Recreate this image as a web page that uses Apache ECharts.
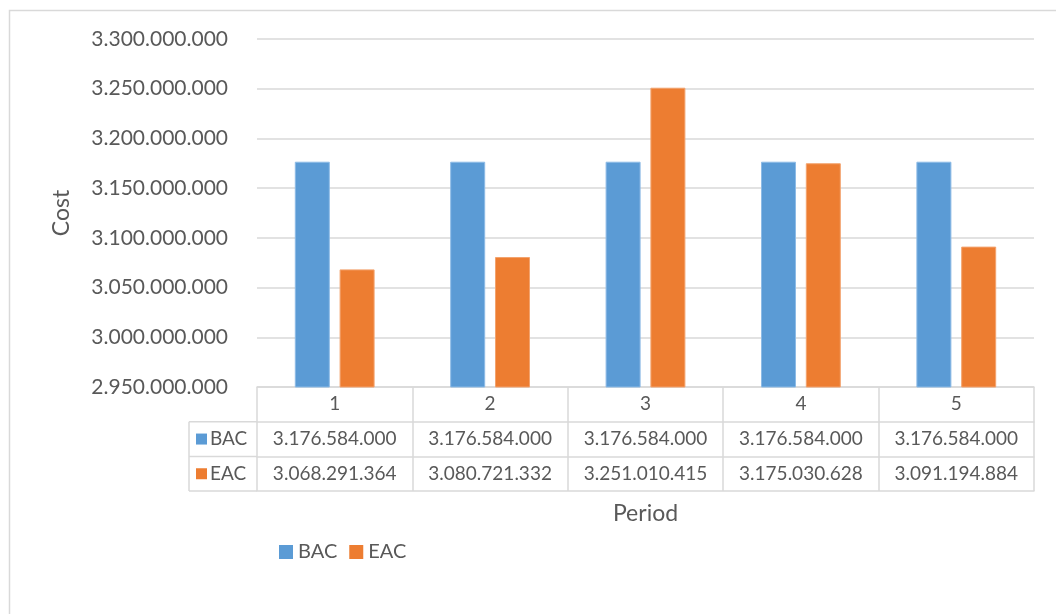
<!DOCTYPE html>
<html>
<head>
<meta charset="utf-8">
<script src="https://cdn.jsdelivr.net/npm/echarts@6/dist/echarts.min.js"></script>
<style>
html,body{margin:0;padding:0;background:#fff;}
#chart{width:1056px;height:614px;}
</style>
</head>
<body>
<div id="chart"></div>
<script>
const periods = ['1', '2', '3', '4', '5'];
const bac = [3176584000, 3176584000, 3176584000, 3176584000, 3176584000];
const eac = [3068291364, 3080721332, 3251010415, 3175030628, 3091194884];
const seriesNames = ['BAC', 'EAC'];
const yMin = 2950000000, yMax = 3300000000, yStep = 50000000;

const TXT = '#595959';
const LINE = '#d9d9d9';
const FONT = 'Lato';
const BLUE = '#5B9BD5', ORANGE = '#ED7D31';

function fmt(v) {
  return String(Math.round(v)).replace(/\B(?=(\d{3})+(?!\d))/g, '.');
}

const gridLeft = 257, gridRight = 22, gridTop = 39, gridBottom = 227;
const rowH = 34.7;

function tableAxis(idx, offset, labels, withTicks, name) {
  return {
    type: 'category',
    data: periods,
    position: 'bottom',
    offset: offset,
    gridIndex: 0,
    boundaryGap: true,
    axisLine: { show: true, lineStyle: { color: LINE, width: 1.5 } },
    axisTick: { show: withTicks, interval: 0, length: rowH, lineStyle: { color: LINE, width: 1.5 } },
    axisLabel: {
      show: !!labels, interval: 0, margin: rowH / 2, verticalAlign: 'middle',
      color: TXT, fontFamily: FONT, fontSize: 19,
      formatter: labels ? function (v, i) { return labels[i]; } : undefined
    },
    splitLine: { show: false },
    name: name || '',
    nameLocation: 'middle',
    nameGap: 11,
    nameTextStyle: { color: TXT, fontFamily: FONT, fontSize: 23, verticalAlign: 'top' }
  };
}

const chart = echarts.init(document.getElementById('chart'));
const tableTop = 614 - gridBottom;
const leftX = 189;

const graphics = [
  { type: 'rect', silent: true, shape: { x: 9.5, y: 10.5, width: 1200, height: 800 },
    style: { fill: 'none', stroke: LINE, lineWidth: 1.5 } },
  { type: 'line', shape: { x1: leftX, y1: tableTop + rowH, x2: gridLeft, y2: tableTop + rowH }, style: { stroke: LINE, lineWidth: 1.5 } },
  { type: 'line', shape: { x1: leftX, y1: tableTop + 2 * rowH, x2: gridLeft, y2: tableTop + 2 * rowH }, style: { stroke: LINE, lineWidth: 1.5 } },
  { type: 'line', shape: { x1: leftX, y1: tableTop + 3 * rowH, x2: gridLeft, y2: tableTop + 3 * rowH }, style: { stroke: LINE, lineWidth: 1.5 } },
  { type: 'line', shape: { x1: leftX, y1: tableTop + rowH, x2: leftX, y2: tableTop + 3 * rowH }, style: { stroke: LINE, lineWidth: 1.5 } }
];
[BLUE, ORANGE].forEach(function (c, i) {
  const cy = tableTop + rowH * (1.5 + i);
  graphics.push({ type: 'rect', shape: { x: leftX + 7, y: cy - 5.5, width: 11, height: 11 }, style: { fill: c } });
  graphics.push({ type: 'text', style: { x: leftX + 21, y: cy, text: seriesNames[i], fill: TXT, font: '19px ' + FONT, textVerticalAlign: 'middle' } });
});

chart.setOption({
  animation: false,
  backgroundColor: '#fff',
  grid: { left: gridLeft, right: gridRight, top: gridTop, bottom: gridBottom, containLabel: false },
  legend: {
    data: seriesNames, left: 274, top: 537, itemWidth: 14, itemHeight: 14, itemGap: 12,
    icon: 'rect',
    itemStyle: { borderWidth: 0, borderColor: 'transparent' },
    textStyle: { color: TXT, fontFamily: FONT, fontSize: 20 }
  },
  xAxis: [
    tableAxis(0, 0, periods, true),
    tableAxis(1, rowH, bac.map(fmt), true),
    tableAxis(2, 2 * rowH, eac.map(fmt), true),
    tableAxis(3, 3 * rowH, null, false, 'Period')
  ],
  yAxis: {
    type: 'value', min: yMin, max: yMax, interval: yStep,
    axisLine: { show: false }, axisTick: { show: false },
    splitLine: { lineStyle: { color: LINE, width: 1.5 } },
    axisLabel: { color: TXT, fontFamily: FONT, fontSize: 21, margin: 29, formatter: fmt },
    name: 'Cost', nameLocation: 'middle', nameGap: 184, nameRotate: 90,
    nameTextStyle: { color: TXT, fontFamily: FONT, fontSize: 23 }
  },
  series: [
    { name: seriesNames[0], type: 'bar', xAxisIndex: 0, data: bac, barWidth: 35, barGap: '28%',
      itemStyle: { color: BLUE, borderColor: '#8dbbe6', borderWidth: 1 } },
    { name: seriesNames[1], type: 'bar', xAxisIndex: 0, data: eac, barWidth: 35, barGap: '28%',
      itemStyle: { color: ORANGE, borderColor: '#f3a36e', borderWidth: 1 } }
  ],
  graphic: graphics
});
</script>
</body>
</html>
